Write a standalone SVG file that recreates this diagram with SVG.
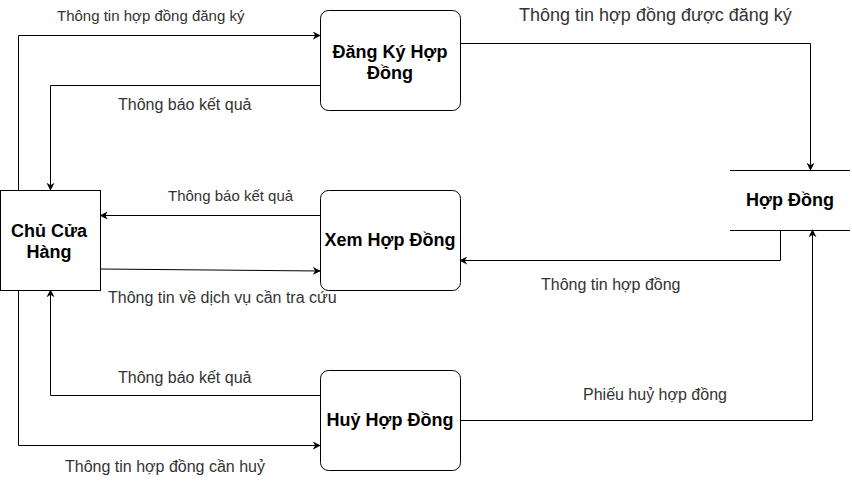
<svg xmlns="http://www.w3.org/2000/svg" width="852" height="481" viewBox="0 0 852 481">
<defs>
<marker id="arr" viewBox="0 0 10 10" refX="9" refY="5" markerWidth="8" markerHeight="8" markerUnits="userSpaceOnUse" orient="auto">
<path d="M0,0 L10,5 L0,10 L3,5 Z" fill="#000"/>
</marker>
</defs>
<style>
.node{fill:#fff;stroke:#000;stroke-width:1}
.nt{font-family:"Liberation Sans",Arial,sans-serif;font-weight:bold;font-size:18px;fill:#000;text-anchor:middle}
.lbl{font-family:"Liberation Sans",Arial,sans-serif;font-size:16px;fill:#333}
.c{fill:none;stroke:#000;stroke-width:1;marker-end:url(#arr)}
</style>
<rect width="852" height="481" fill="#fff"/>
<g id="connectors">
<path class="c" d="M18.5,190 V35.5 H320"/>
<path class="c" d="M320,85.5 H50.5 V190"/>
<path class="c" d="M320,215.5 H100.5"/>
<path class="c" d="M100.5,269 L320,271"/>
<path class="c" d="M780.5,230 V260.5 H460"/>
<path class="c" d="M460,43.5 H810.5 V170"/>
<path class="c" d="M460,420.5 H812.5 V230"/>
<path class="c" d="M320,395.5 H50.5 V290"/>
<path class="c" d="M18.5,290 V445.5 H320"/>
<text class="lbl" x="57" y="21" style="font-size:15px">Thông tin hợp đồng đăng ký</text>
<text class="lbl" x="118" y="110">Thông báo kết quả</text>
<text class="lbl" x="168" y="201" style="font-size:15px">Thông báo kết quả</text>
<text class="lbl" x="108" y="303">Thông tin về dịch vụ cần tra cứu</text>
<text class="lbl" x="541" y="290">Thông tin hợp đồng</text>
<text class="lbl" x="519" y="21" style="font-size:18px">Thông tin hợp đồng được đăng ký</text>
<text class="lbl" x="583" y="400">Phiếu huỷ hợp đồng</text>
<text class="lbl" x="118" y="383">Thông báo kết quả</text>
<text class="lbl" x="65" y="472">Thông tin hợp đồng cần huỷ</text>
</g>
<g id="chu-cua-hang">
<rect class="node" x="0.5" y="190.5" width="100" height="100"/>
<text class="nt" x="49" y="237">Chủ Cửa</text>
<text class="nt" x="49" y="258">Hàng</text>
</g>
<g id="dang-ky">
<rect class="node" x="320.5" y="10.5" width="140" height="100" rx="8"/>
<text class="nt" x="390" y="58">Đăng Ký Hợp</text>
<text class="nt" x="390" y="79">Đồng</text>
</g>
<g id="xem">
<rect class="node" x="320.5" y="190.5" width="140" height="100" rx="8"/>
<text class="nt" x="390" y="246">Xem Hợp Đồng</text>
</g>
<g id="huy">
<rect class="node" x="320.5" y="370.5" width="140" height="100" rx="8"/>
<text class="nt" x="390" y="426">Huỷ Hợp Đồng</text>
</g>
<g id="hop-dong">
<line x1="730" y1="170.5" x2="850" y2="170.5" stroke="#000"/>
<line x1="730" y1="230.5" x2="850" y2="230.5" stroke="#000"/>
<text class="nt" x="790" y="206">Hợp Đồng</text>
</g>
</svg>
